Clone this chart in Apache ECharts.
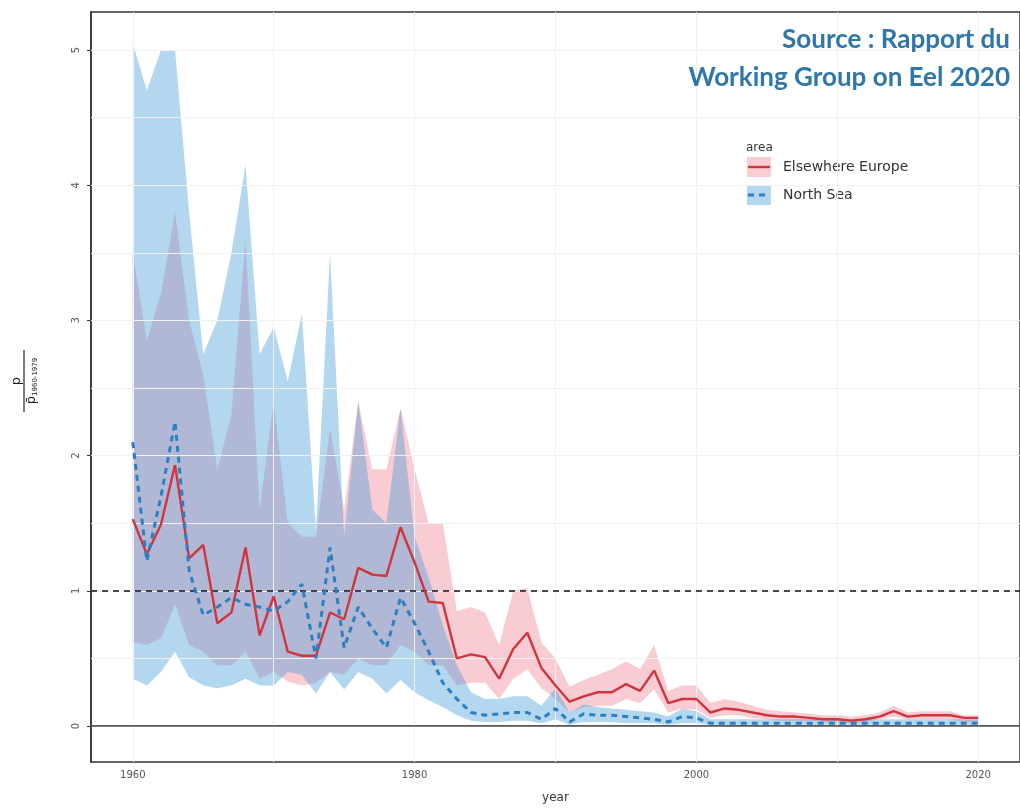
<!DOCTYPE html>
<html>
<head>
<meta charset="utf-8">
<script src="https://cdn.jsdelivr.net/npm/echarts@6/dist/echarts.min.js"></script>
<style>html,body{margin:0;padding:0;background:#fff}#c{width:1020px;height:810px}</style>
</head>
<body>
<div id="c"></div>
<script>
const years = [1960,1961,1962,1963,1964,1965,1966,1967,1968,1969,1970,1971,1972,1973,1974,1975,1976,1977,1978,1979,
1980,1981,1982,1983,1984,1985,1986,1987,1988,1989,1990,1991,1992,1993,1994,1995,1996,1997,1998,1999,
2000,2001,2002,2003,2004,2005,2006,2007,2008,2009,2010,2011,2012,2013,2014,2015,2016,2017,2018,2019,2020];

const europeMean = [1.53,1.27,1.49,1.93,1.24,1.34,0.76,0.84,1.32,0.67,0.96,0.55,0.52,0.52,0.84,0.79,1.17,1.12,1.11,1.47,
1.21,0.92,0.91,0.50,0.53,0.51,0.35,0.57,0.69,0.43,0.30,0.18,0.22,0.25,0.25,0.31,0.26,0.41,0.17,0.20,
0.20,0.10,0.13,0.12,0.10,0.08,0.07,0.07,0.06,0.05,0.05,0.04,0.05,0.07,0.11,0.07,0.08,0.08,0.08,0.06,0.06];
const europeUpper = [3.5,2.85,3.2,3.8,3.0,2.6,1.9,2.3,3.6,1.6,2.4,1.5,1.4,1.4,2.2,1.6,2.4,1.9,1.9,2.35,
1.9,1.5,1.5,0.85,0.88,0.84,0.6,1.0,1.02,0.62,0.5,0.29,0.34,0.38,0.42,0.48,0.42,0.6,0.26,0.3,
0.3,0.17,0.2,0.18,0.15,0.12,0.11,0.1,0.09,0.08,0.08,0.07,0.08,0.1,0.15,0.1,0.11,0.11,0.11,0.08,0.08];
const europeLower = [0.62,0.6,0.65,0.9,0.6,0.55,0.45,0.45,0.55,0.35,0.4,0.33,0.3,0.32,0.4,0.38,0.5,0.45,0.45,0.6,
0.55,0.45,0.45,0.3,0.32,0.32,0.2,0.35,0.42,0.28,0.2,0.1,0.14,0.15,0.15,0.2,0.17,0.27,0.1,0.13,
0.12,0.06,0.08,0.08,0.06,0.05,0.04,0.04,0.04,0.03,0.03,0.02,0.03,0.05,0.07,0.05,0.05,0.05,0.05,0.03,0.03];

const northMean = [2.1,1.22,1.7,2.25,1.15,0.82,0.88,0.95,0.9,0.88,0.85,0.92,1.05,0.5,1.32,0.58,0.88,0.72,0.58,0.95,
0.76,0.55,0.32,0.2,0.1,0.08,0.09,0.1,0.1,0.05,0.13,0.03,0.09,0.08,0.08,0.07,0.06,0.05,0.03,0.07,
0.06,0.02,0.02,0.02,0.02,0.02,0.02,0.02,0.02,0.02,0.02,0.02,0.02,0.02,0.02,0.02,0.02,0.02,0.02,0.02,0.02];
const northUpper = [5.05,4.7,5.0,5.0,3.8,2.75,3.0,3.5,4.15,2.75,2.95,2.55,3.05,1.45,3.5,1.4,2.4,1.6,1.5,2.35,
1.4,1.1,0.75,0.45,0.25,0.2,0.2,0.22,0.22,0.15,0.28,0.1,0.16,0.14,0.13,0.12,0.11,0.1,0.07,0.13,
0.11,0.05,0.05,0.05,0.05,0.05,0.05,0.05,0.05,0.05,0.05,0.05,0.05,0.05,0.05,0.05,0.05,0.05,0.05,0.05,0.05];
const northLower = [0.35,0.3,0.4,0.55,0.36,0.3,0.28,0.3,0.35,0.3,0.3,0.4,0.38,0.24,0.4,0.27,0.4,0.35,0.24,0.34,
0.25,0.19,0.14,0.08,0.04,0.03,0.03,0.04,0.04,0.02,0.05,0.01,0.03,0.03,0.03,0.02,0.02,0.02,0.01,0.02,
0.02,0.01,0.01,0.01,0.01,0.01,0.01,0.01,0.01,0.01,0.01,0.01,0.01,0.01,0.01,0.01,0.01,0.01,0.01,0.01,0.01];

const xTicks = [1960,1980,2000,2020];
const yTicks = [0,1,2,3,4,5];
const xGrid = [1960,1970,1980,1990,2000,2010,2020];
const yGrid = [0,0.5,1,1.5,2,2.5,3,3.5,4,4.5,5];
const refLines = [0,1];

const pairs = (arr) => years.map((y,i)=>[y,arr[i]]);
const bandData = (lo,up) => years.map((y,i)=>[y,lo[i],up[i]]);

function makeBand(lo, up, color){
  return function(params, api){
    if (params.dataIndex !== 0) return null;
    const top = [], bot = [];
    for (let i = 0; i < years.length; i++){
      top.push(api.coord([years[i], up[i]]));
      bot.push(api.coord([years[i], lo[i]]));
    }
    const pts = top.concat(bot.reverse());
    return {type:'polygon', shape:{points:pts}, style:{fill:color}};
  };
}

const chart = echarts.init(document.getElementById('c'), null, {renderer:'canvas'});
const FONT = 'DejaVu Sans';
const PINK = 'rgba(230,80,100,0.29)';
const BLUE = 'rgba(67,155,217,0.4)';

chart.setOption({
  animation:false,
  backgroundColor:'#fff',
  grid:{left:91,top:12,right:-5,bottom:48,show:true,borderColor:'#333',borderWidth:1.5,backgroundColor:'transparent'},
  xAxis:{
    type:'value', min:1957.035, max:2022.965,
    name:'year', nameLocation:'middle', nameGap:30,
    nameTextStyle:{fontFamily:FONT,fontSize:12,color:'#333'},
    axisLine:{show:true,lineStyle:{color:'#333',width:1.5}},
    axisTick:{show:true,length:4,customValues:xTicks,lineStyle:{color:'#333'}},
    axisLabel:{customValues:xTicks,formatter:(v)=>String(v),fontFamily:FONT,fontSize:10,color:'#555',margin:8},
    splitLine:{show:false}
  },
  yAxis:{
    type:'value', min:-0.266, max:5.281,
    axisLine:{show:true,lineStyle:{color:'#333',width:1.5}},
    axisTick:{show:true,length:4,customValues:yTicks,lineStyle:{color:'#333'}},
    axisLabel:{customValues:yTicks,formatter:(v)=>String(v),rotate:90,fontFamily:FONT,fontSize:10,color:'#555',margin:10},
    splitLine:{show:false}
  },
  series:[
    {type:'line',data:[],silent:true,z:1,
      markLine:{silent:true,symbol:'none',label:{show:false},
        lineStyle:{color:'#f1f1f1',width:1,type:'solid'},
        data:[...xGrid.map(v=>({xAxis:v})),...yGrid.map(v=>({yAxis:v}))]}},
    {name:'euBand',type:'custom',data:bandData(europeLower,europeUpper),encode:{x:0,y:[1,2]},
      renderItem:makeBand(europeLower,europeUpper,PINK),clip:true,z:2,silent:true},
    {name:'nsBand',type:'custom',data:bandData(northLower,northUpper),encode:{x:0,y:[1,2]},
      renderItem:makeBand(northLower,northUpper,BLUE),clip:true,z:3,silent:true},
    {type:'line',data:[],silent:true,z:4,
      markLine:{silent:true,symbol:'none',label:{show:false},
        data:[
          {yAxis:refLines[0],lineStyle:{color:'#555',width:1.6,type:'solid'}},
          {yAxis:refLines[1],lineStyle:{color:'#111',width:1.5,type:[6,5]}}
        ]}},
    {name:'Elsewhere Europe',type:'line',data:pairs(europeMean),showSymbol:false,
      lineStyle:{color:'#d0343c',width:2.4},z:5},
    {name:'North Sea',type:'line',data:pairs(northMean),showSymbol:false,
      lineStyle:{color:'#2e7fc0',width:3,type:[6,5]},z:6}
  ],
  graphic:[
    {type:'text',x:1010,y:40,z:100,
      style:{text:'Source : Rapport du',font:'bold 26px Lato',fill:'#2f77aa',align:'right',verticalAlign:'middle'}},
    {type:'text',x:1010,y:78,z:100,
      style:{text:'Working Group on Eel 2020',font:'bold 26px Lato',fill:'#2f77aa',align:'right',verticalAlign:'middle'}},
    {type:'text',x:17,y:381,rotation:Math.PI/2,
      style:{text:'p',font:'13px DejaVu Sans',fill:'#222',align:'center',verticalAlign:'middle'}},
    {type:'line',shape:{x1:24,y1:350,x2:24,y2:412},style:{stroke:'#222',lineWidth:1.2}},
    {type:'text',x:32,y:381,rotation:Math.PI/2,
      style:{text:'{a|p̄}{b|1960-1979}',align:'center',verticalAlign:'middle',
        rich:{a:{font:'13px DejaVu Sans',fill:'#222'},b:{font:'7px DejaVu Sans',fill:'#222',padding:[6,0,0,0]}}}},
    {type:'text',x:746,y:148,style:{text:'area',font:'12px DejaVu Sans',fill:'#333',verticalAlign:'middle'}},
    {type:'rect',shape:{x:747,y:157,width:24,height:20},style:{fill:PINK}},
    {type:'line',shape:{x1:748,y1:167,x2:770,y2:167},style:{stroke:'#d0343c',lineWidth:2.4}},
    {type:'text',x:783,y:167,style:{text:'Elsewhere Europe',font:'14px DejaVu Sans',fill:'#333',verticalAlign:'middle'}},
    {type:'rect',shape:{x:747,y:185,width:24,height:20},style:{fill:BLUE}},
    {type:'line',shape:{x1:748,y1:195,x2:770,y2:195},style:{stroke:'#2e7fc0',lineWidth:3,lineDash:[6,5]}},
    {type:'text',x:783,y:195,style:{text:'North Sea',font:'14px DejaVu Sans',fill:'#333',verticalAlign:'middle'}}
  ]
});
</script>
</body>
</html>
